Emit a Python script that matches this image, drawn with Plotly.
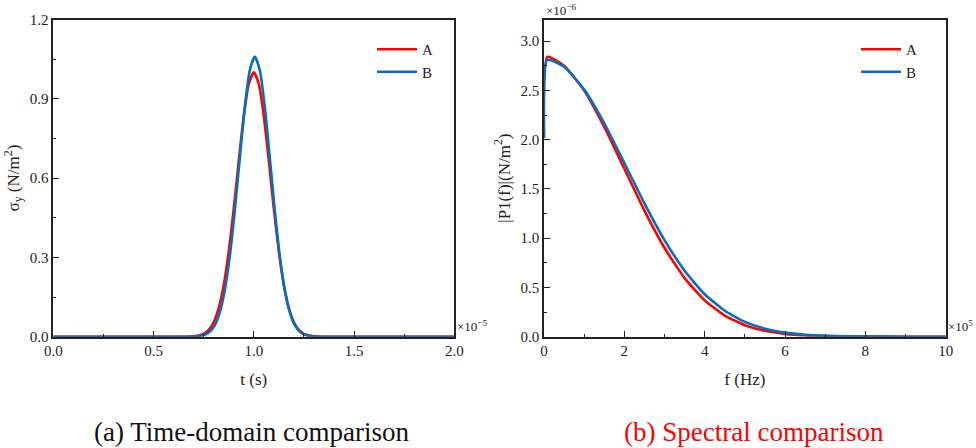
import plotly.graph_objects as go

# ---- data (time axis in units of 1e-5 s) ----
t_A = [0.0, 0.5, 0.65, 0.70, 0.725, 0.75, 0.775, 0.80, 0.825, 0.85, 0.875, 0.90, 0.925, 0.95, 0.975,
       1.0, 1.025, 1.05, 1.075, 1.10, 1.125, 1.15, 1.175, 1.20, 1.225, 1.25, 1.275, 1.30, 1.35, 1.5, 2.0]
sig_A = [0.0, 0.0, 0.0, 0.0015, 0.0041, 0.0107, 0.0254, 0.0548, 0.108, 0.195, 0.322, 0.484, 0.665, 0.834, 0.956,
         1.0, 0.956, 0.834, 0.665, 0.484, 0.322, 0.195, 0.108, 0.0548, 0.0254, 0.0107, 0.0041, 0.0015, 0.0, 0.0, 0.0]
t_B = [0.0, 0.5, 0.655, 0.705, 0.73, 0.755, 0.78, 0.805, 0.83, 0.855, 0.88, 0.905, 0.93, 0.955, 0.98,
       1.005, 1.03, 1.055, 1.08, 1.105, 1.13, 1.155, 1.18, 1.205, 1.23, 1.255, 1.28, 1.305, 1.355, 1.5, 2.0]
sig_B = [0.0, 0.0, 0.0, 0.0008, 0.0025, 0.0071, 0.0184, 0.043, 0.0912, 0.175, 0.303, 0.476, 0.675, 0.868, 1.008,
         1.06, 1.008, 0.868, 0.675, 0.476, 0.303, 0.175, 0.0912, 0.043, 0.0184, 0.0071, 0.0025, 0.0008, 0.0, 0.0, 0.0]

# ---- spectrum (f in units of 1e5 Hz, |P1| in units of 1e-6) ----
f_vals = [0.0, 0.08, 0.5, 1.0, 1.5, 2.0, 2.5, 3.0, 3.5, 4.0, 4.5, 5.0, 5.5, 6.0, 6.5, 7.0, 8.0, 9.0, 10.0]
P1_A = [2.02, 2.84, 2.75, 2.50, 2.13, 1.705, 1.28, 0.90, 0.595, 0.369, 0.214, 0.117, 0.060, 0.029, 0.013, 0.0055, 0.0008, 0.0, 0.0]
P1_B = [2.02, 2.81, 2.74, 2.508, 2.166, 1.763, 1.354, 0.981, 0.670, 0.431, 0.263, 0.150, 0.081, 0.041, 0.020, 0.009, 0.0016, 0.0002, 0.0]

series_names = ["A", "B"]
RED = "#FF0000"
BLUE = "#0072BD"
FONT = "Liberation Serif, Times New Roman, serif"

fig = go.Figure()
fig.add_trace(go.Scatter(x=t_A, y=sig_A, name=series_names[0], mode="lines", line=dict(color=RED, width=2.6, shape="spline", smoothing=0.6),
                         xaxis="x", yaxis="y", legend="legend"))
fig.add_trace(go.Scatter(x=t_B, y=sig_B, name=series_names[1], mode="lines", line=dict(color=BLUE, width=2.6, shape="spline", smoothing=0.6),
                         xaxis="x", yaxis="y", legend="legend"))
fig.add_trace(go.Scatter(x=f_vals, y=P1_A, name=series_names[0], mode="lines", line=dict(color=RED, width=2.6, shape="spline", smoothing=0.5),
                         xaxis="x2", yaxis="y2", legend="legend2"))
fig.add_trace(go.Scatter(x=f_vals, y=P1_B, name=series_names[1], mode="lines", line=dict(color=BLUE, width=2.6, shape="spline", smoothing=0.5),
                         xaxis="x2", yaxis="y2", legend="legend2"))

axis_common = dict(showline=True, linecolor="#222", linewidth=1.5, mirror=True, showgrid=False, zeroline=False,
                   ticks="inside", ticklen=6, tickwidth=1.2, tickcolor="#222", automargin=False,
                   tickfont=dict(family=FONT, size=15, color="#222"))
minor = dict(ticks="inside", ticklen=3, tickwidth=1.2, tickcolor="#222", showgrid=False)

ydom = [1 - 336.7 / 448, 1 - 19.5 / 448]
fig.update_layout(
    width=976, height=448, margin=dict(l=0, r=0, t=0, b=0),
    plot_bgcolor="white", paper_bgcolor="white",
    font=dict(family=FONT, color="#222"),
    xaxis=dict(domain=[53.3 / 976, 454.3 / 976], range=[0, 2], dtick=0.5, tickformat=".1f",
               minor=dict(dtick=0.25, **minor), anchor="y",
               title=dict(text="t (s)", font=dict(family=FONT, size=17), standoff=15), **axis_common),
    yaxis=dict(domain=ydom, range=[0, 1.2], dtick=0.3, tickformat=".1f",
               minor=dict(dtick=0.15, **minor), anchor="x",
               title=dict(text="σ<sub>y</sub> (N/m<sup>2</sup>)", font=dict(family=FONT, size=17), standoff=6), **axis_common),
    xaxis2=dict(domain=[544 / 976, 945.7 / 976], range=[0, 10], dtick=2,
                minor=dict(dtick=1, **minor), anchor="y2",
                title=dict(text="f (Hz)", font=dict(family=FONT, size=17), standoff=15), **axis_common),
    yaxis2=dict(domain=ydom, range=[0, 3.22], dtick=0.5, tickformat=".1f",
                minor=dict(dtick=0.25, **minor), anchor="x2",
                title=dict(text="|P1(f)|(N/m<sup>2</sup>)", font=dict(family=FONT, size=17), standoff=6), **axis_common),
    legend=dict(x=372 / 976, y=1 - 33 / 448, xanchor="left", yanchor="top", bgcolor="rgba(0,0,0,0)",
                font=dict(family=FONT, size=15), itemwidth=40, tracegroupgap=0),
    legend2=dict(x=856 / 976, y=1 - 33 / 448, xanchor="left", yanchor="top", bgcolor="rgba(0,0,0,0)",
                 font=dict(family=FONT, size=15), itemwidth=40, tracegroupgap=0),
    showlegend=True,
)

annots = [
    dict(text="×10<sup>−5</sup>", x=455 / 976, y=1 - 326 / 448, xanchor="left", yanchor="middle", font=dict(size=13)),
    dict(text="×10<sup>5</sup>", x=946 / 976, y=1 - 326 / 448, xanchor="left", yanchor="middle", font=dict(size=13)),
    dict(text="×10<sup>−6</sup>", x=544 / 976, y=1 - 10 / 448, xanchor="left", yanchor="middle", font=dict(size=13)),
    dict(text="(a) Time-domain comparison", x=251.5 / 976, y=1 - 432 / 448, xanchor="center", yanchor="middle",
         font=dict(size=27, color="#111")),
    dict(text="(b) Spectral comparison", x=754 / 976, y=1 - 432 / 448, xanchor="center", yanchor="middle",
         font=dict(size=27, color="#FF0000")),
]
for a in annots:
    a.setdefault("font", {})
    a["font"]["family"] = FONT
    a["font"].setdefault("color", "#222")
    fig.add_annotation(xref="paper", yref="paper", showarrow=False, **a)

fig.write_html("out.html", config={"displayModeBar": False},
               post_script="document.body.style.margin='0px';document.body.style.overflow='hidden';")
